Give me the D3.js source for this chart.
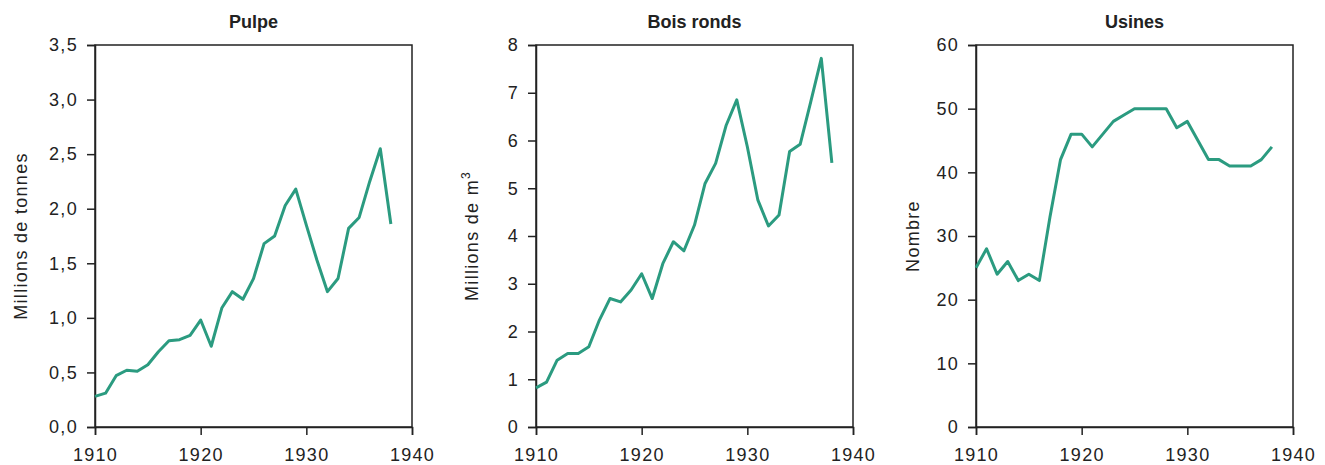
<!DOCTYPE html>
<html>
<head>
<meta charset="utf-8">
<script src="https://cdn.jsdelivr.net/npm/d3@7"></script>
<style>
  body { margin: 0; background: #fff; }
  svg text { font-family: "Liberation Sans", Arial, sans-serif; fill: #222; }
</style>
</head>
<body>
<svg id="chart" width="1325" height="465"></svg>
<script>
// years shared by all three panels
const years = d3.range(1910, 1939);

// pulp production, millions of tonnes
const pulpe = [0.28, 0.31, 0.47, 0.52, 0.51, 0.57, 0.69, 0.79, 0.80, 0.84,
  0.98, 0.74, 1.09, 1.24, 1.17, 1.36, 1.68, 1.75, 2.03, 2.18,
  1.85, 1.53, 1.24, 1.36, 1.82, 1.92, 2.25, 2.55, 1.86];

// roundwood, millions of m3
const boisRonds = [0.82, 0.94, 1.40, 1.54, 1.54, 1.68, 2.24, 2.69, 2.62, 2.87,
  3.21, 2.69, 3.42, 3.88, 3.69, 4.23, 5.10, 5.52, 6.32, 6.85,
  5.87, 4.75, 4.21, 4.44, 5.77, 5.92, 6.81, 7.72, 5.53];

// number of mills
const usines = [25, 28, 24, 26, 23, 24, 23, 33, 42, 46,
  46, 44, 46, 48, 49, 50, 50, 50, 50, 47,
  48, 45, 42, 42, 41, 41, 41, 42, 44];

const xTicks = [1910, 1920, 1930, 1940];

const panels = [
  { title: 'Pulpe', values: pulpe, yMax: 3.5, yTicks: d3.range(0, 3.51, 0.5),
    fmt: d => d.toFixed(1).replace('.', ','), label: 'Millions de tonnes', left: 95, labelOff: 68 },
  { title: 'Bois ronds', values: boisRonds, yMax: 8, yTicks: d3.range(0, 9, 1),
    fmt: d => d, label: 'Millions de m', sup: '3', left: 536, labelOff: 58 },
  { title: 'Usines', values: usines, yMax: 60, yTicks: d3.range(0, 61, 10),
    fmt: d => d, label: 'Nombre', left: 976, labelOff: 57 }
];

const svg = d3.select('#chart');
const plotW = 317, plotTop = 45, plotBottom = 427;
const lineColor = '#2b9b80';
const axisColor = '#222';
const spacing = '1.3px'; // the original's regular text is set quite wide

panels.forEach(p => {
  const x = d3.scaleLinear().domain([1910, 1940]).range([p.left, p.left + plotW]);
  const y = d3.scaleLinear().domain([0, p.yMax]).range([plotBottom, plotTop]);
  const g = svg.append('g');

  // frame
  g.append('rect')
    .attr('x', p.left).attr('y', plotTop)
    .attr('width', plotW).attr('height', plotBottom - plotTop)
    .attr('fill', 'none').attr('stroke', axisColor).attr('stroke-width', 1.5);

  // axes
  const xAxis = g.append('g')
    .attr('transform', `translate(0,${plotBottom})`)
    .call(d3.axisBottom(x).tickValues(xTicks).tickFormat(d3.format('d')).tickSize(8).tickPadding(13));
  const yAxis = g.append('g')
    .attr('transform', `translate(${p.left},0)`)
    .call(d3.axisLeft(y).tickValues(p.yTicks).tickFormat(p.fmt).tickSize(8).tickPadding(9));

  [xAxis, yAxis].forEach(a => {
    a.select('.domain').attr('stroke', axisColor).attr('stroke-width', 1.5);
    a.selectAll('.tick line').attr('stroke', axisColor).attr('stroke-width', 1.5);
    a.selectAll('.tick text').attr('font-size', 18).attr('fill', '#222')
      .attr('letter-spacing', spacing)
      .style('font-family', '"Liberation Sans", Arial, sans-serif');
  });

  // data line
  const line = d3.line().x((d, i) => x(years[i])).y(d => y(d));
  g.append('path')
    .datum(p.values)
    .attr('d', line)
    .attr('fill', 'none')
    .attr('stroke', lineColor)
    .attr('stroke-width', 3)
    .attr('stroke-linejoin', 'round');

  // title
  g.append('text')
    .attr('x', p.left + plotW / 2).attr('y', 28)
    .attr('text-anchor', 'middle')
    .attr('font-size', 18).attr('font-weight', 'bold')
    .text(p.title);

  // y label
  const lab = g.append('text')
    .attr('transform', `translate(${p.left - p.labelOff},${(plotTop + plotBottom) / 2}) rotate(-90)`)
    .attr('text-anchor', 'middle')
    .attr('font-size', 18)
    .attr('letter-spacing', spacing)
    .text(p.label);
  if (p.sup) {
    lab.append('tspan').attr('font-size', 12).attr('dy', -8).text(p.sup);
  }
});
</script>
</body>
</html>
